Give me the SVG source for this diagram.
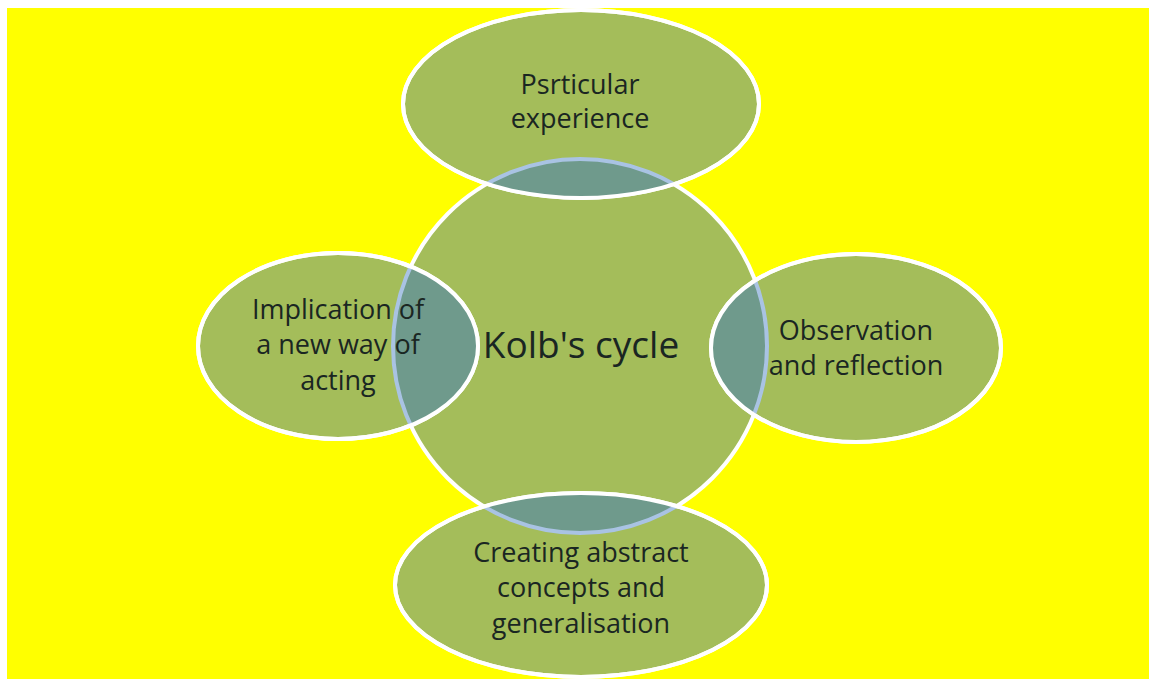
<svg xmlns="http://www.w3.org/2000/svg" width="1149" height="679" viewBox="0 0 1149 679">
  <style>
    .shape { fill: #a4bd5a; stroke: #ffffff; stroke-width: 4; }
    .rim { fill: none; stroke: #ffffff; stroke-width: 4; }
    .overlap { fill: #6f9a8c; stroke: #a9c3e3; stroke-width: 4; }
    text { font-family: "Open Sans", "Noto Sans", sans-serif; fill: #1a2622; text-anchor: middle; }
    .lbl { font-size: 27px; }
    .big { font-size: 37px; }
  </style>
  <defs>
    <clipPath id="cTop"><ellipse cx="581" cy="104" rx="178" ry="94"/></clipPath>
    <clipPath id="cLeft"><ellipse cx="338" cy="346" rx="140" ry="93"/></clipPath>
    <clipPath id="cRight"><ellipse cx="856" cy="348" rx="145" ry="94"/></clipPath>
    <clipPath id="cBottom"><ellipse cx="581" cy="585" rx="186" ry="92"/></clipPath>
  </defs>
  <rect x="0" y="0" width="1149" height="679" fill="#ffffff"/>
  <rect x="7" y="8" width="1142" height="671" fill="#ffff00"/>

  <g id="center">
    <circle class="shape" cx="580" cy="346" r="187"/>
  </g>
  <g id="node-top">
    <ellipse class="shape" cx="581" cy="104" rx="178" ry="94"/>
  </g>
  <g id="node-left">
    <ellipse class="shape" cx="338" cy="346" rx="140" ry="93"/>
  </g>
  <g id="node-right">
    <ellipse class="shape" cx="856" cy="348" rx="145" ry="94"/>
  </g>
  <g id="node-bottom">
    <ellipse class="shape" cx="581" cy="585" rx="186" ry="92"/>
  </g>

  <g id="overlaps">
    <circle class="overlap" cx="580" cy="346" r="187" clip-path="url(#cTop)"/>
    <circle class="overlap" cx="580" cy="346" r="187" clip-path="url(#cLeft)"/>
    <circle class="overlap" cx="580" cy="346" r="187" clip-path="url(#cRight)"/>
    <circle class="overlap" cx="580" cy="346" r="187" clip-path="url(#cBottom)"/>
    <ellipse class="rim" cx="581" cy="104" rx="178" ry="94"/>
    <ellipse class="rim" cx="338" cy="346" rx="140" ry="93"/>
    <ellipse class="rim" cx="856" cy="348" rx="145" ry="94"/>
    <ellipse class="rim" cx="581" cy="585" rx="186" ry="92"/>
  </g>

  <g id="labels">
    <text class="big" x="581" y="358">Kolb's cycle</text>
    <text class="lbl" x="580" y="94">Psrticular</text>
    <text class="lbl" x="580" y="128">experience</text>
    <text class="lbl" x="338" y="319">Implication of</text>
    <text class="lbl" x="338" y="354">a new way of</text>
    <text class="lbl" x="338" y="390">acting</text>
    <text class="lbl" x="856" y="340">Observation</text>
    <text class="lbl" x="856" y="375">and reflection</text>
    <text class="lbl" x="581" y="562">Creating abstract</text>
    <text class="lbl" x="581" y="597">concepts and</text>
    <text class="lbl" x="581" y="633">generalisation</text>
  </g>
</svg>
